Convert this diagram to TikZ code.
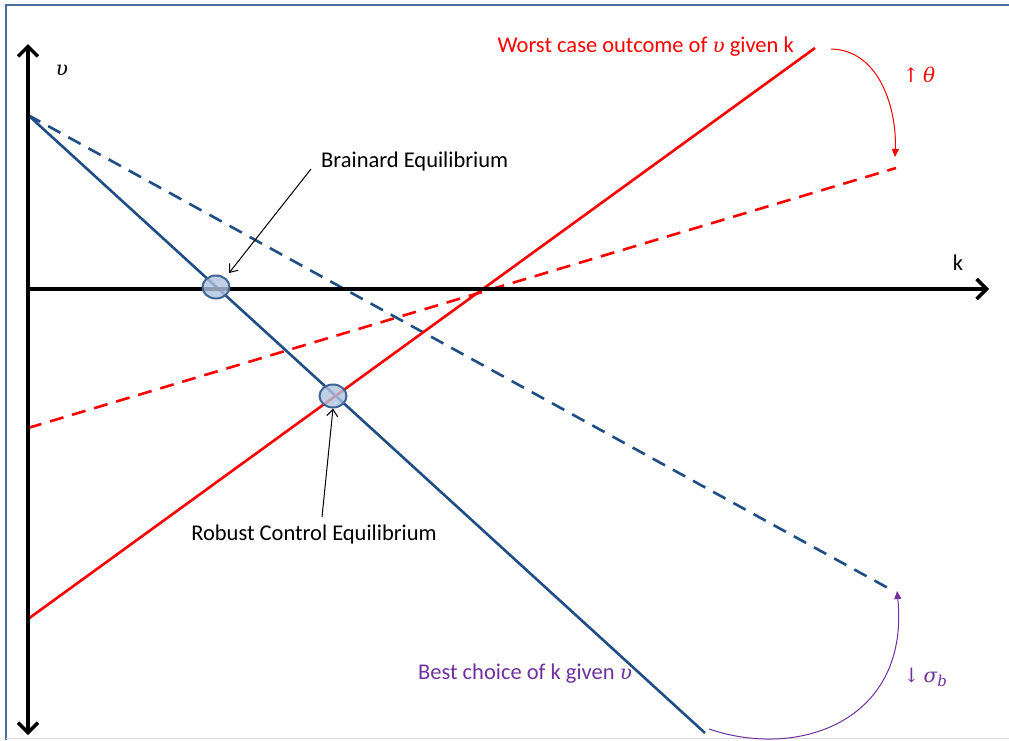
\documentclass[tikz,border=0pt]{standalone}
\usepackage{fontspec}
\setmainfont{Carlito}
\newfontfamily\grk{DejaVu Serif}
\newcommand{\gr}[1]{{\grk\itshape\fontsize{20}{24}\selectfont #1}}
\newcommand{\arr}[1]{{\grk\fontsize{20}{24}\selectfont #1}}
\usetikzlibrary{arrows.meta,shapes.geometric}
\definecolor{frameblue}{HTML}{4A6D9A}
\definecolor{lineblue}{HTML}{1F4E84}
\definecolor{eqfill}{HTML}{AFC3E0}
\definecolor{eqdraw}{HTML}{3E6596}
\definecolor{myred}{HTML}{FF0000}
\definecolor{mypurple}{HTML}{7030A0}
\tikzset{
  axis/.style={line width=3.5pt,-{Straight Barb[length=10pt,width=20pt,line width=3.5pt]}},
  blueline/.style={lineblue,line width=2.6pt},
  redline/.style={myred,line width=2.6pt},
  dashpat/.style={dash pattern=on 14pt off 9pt},
  eqpt/.style={ellipse,draw=eqdraw,fill=eqfill,fill opacity=0.8,line width=2pt,minimum width=27pt,minimum height=23pt,inner sep=0pt},
  lbl/.style={font=\fontsize{22.5}{25}\selectfont,inner sep=0pt},
  pointer/.style={black,line width=1pt,-{Straight Barb[length=7pt,width=11pt]}},
}
\begin{document}
\begin{tikzpicture}[x=1pt,y=-1pt]
\useasboundingbox (0,0) rectangle (1009,740);
% frame
\draw[frameblue,line width=2.5pt] (6,740) -- (6,5) -- (1009,5);
\draw[gray!30,line width=1pt] (6,738.5) -- (1009,738.5);
% coordinates
\coordinate (O) at (28,289);
\coordinate (ytop) at (28,44);
\coordinate (ybot) at (28,735);
\coordinate (xend) at (989,289);
\coordinate (B0) at (28,115);
\coordinate (B1) at (705,733);
\coordinate (B2) at (888,588);
\coordinate (R0) at (28,619);
\coordinate (R1) at (815,48);
\coordinate (D0) at (28,428);
\coordinate (D1) at (896,168);
% lines
\draw[blueline,dashpat] (B0) -- (B2);
\draw[redline,dashpat] (D0) -- (D1);
\draw[blueline] (B0) -- (B1);
\draw[redline] (R0) -- (R1);
% axes
\draw[axis] (O) -- (ytop);
\draw[axis] (O) -- (ybot);
\draw[axis] (O) -- (xend);
\node[lbl] (vlab) at (62,70) {\gr{υ}};
\node[lbl] (klab) at (958,263) {k};
% equilibria
\node[eqpt] (brain) at (216,287) {};
\node[eqpt] (robust) at (333,396) {};
\node[lbl,anchor=west] (brainlab) at (321,161) {Brainard Equilibrium};
\node[lbl] (robustlab) at (314,534) {Robust Control Equilibrium};
\coordinate (bstart) at (311,169);
\coordinate (rstart) at (322,517);
\coordinate (bend) at (229,273);
\draw[pointer] (bstart) -- (bend);
\draw[pointer] (rstart) -- (robust.south);
% labels
\node[lbl,myred,anchor=east] (worst) at (794,47) {Worst case outcome of \gr{υ} given k};
\node[lbl,myred] (theta) at (919,75) {\arr{↑}\,\gr{θ}};
\node[lbl,mypurple] (best) at (525,674) {Best choice of k given \gr{υ}};
\node[lbl,mypurple] (sigma) at (925,677) {\arr{↓}\,\gr{σ}\raisebox{-4pt}{\gr{\fontsize{15}{18}\selectfont b}}};
% shift arcs
\coordinate (ra0) at (831,49);
\coordinate (ra1) at (895,157);
\coordinate (pa0) at (709,729);
\coordinate (pa1) at (897,591);
\draw[myred,line width=1pt,-{Triangle[length=8pt,width=7pt]}] (ra0) .. controls (880,50) and (897,110) .. (ra1);
\draw[mypurple,line width=1pt,-{Triangle[length=8pt,width=7pt]}] (pa0) .. controls (800,760) and (910,720) .. (pa1);
\end{tikzpicture}
\end{document}
